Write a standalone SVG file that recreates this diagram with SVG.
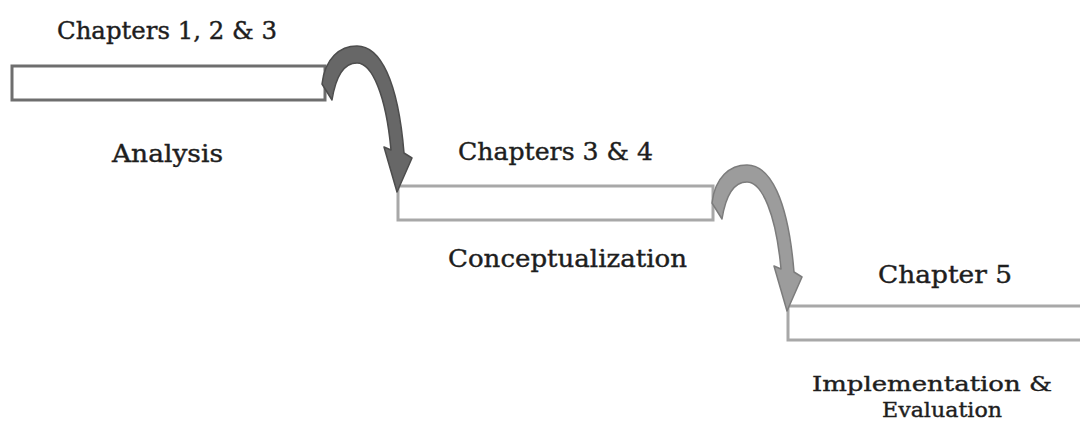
<svg xmlns="http://www.w3.org/2000/svg" width="1080" height="425" viewBox="0 0 1080 425">
<style>
.lbl{font-family:"DejaVu Serif","Liberation Serif",serif;font-size:24px;fill:#1e1e1e;stroke:#1e1e1e;stroke-width:0.4;text-anchor:middle}
.sm{font-size:21px}
.step1{fill:#fff;stroke:#6e6e6e;stroke-width:3}
.step2{fill:#fff;stroke:#a8a8a8;stroke-width:3}
.arr1{fill:#676767;stroke:#4d4d4d;stroke-width:1.5;stroke-linejoin:round}
.arr2{fill:#9c9c9c;stroke:#7c7c7c;stroke-width:1.5;stroke-linejoin:round}
</style>
<defs>
<path id="curve" d="M 322,84 C 325,58 340,46 357,46 C 380,46 398,80 404,153 L 412,158 L 397,192 L 384,147 L 391,150 C 386,95 372,63 357,63 C 345,63 336,75 332,100 Z"/>
</defs>
<rect width="1080" height="425" fill="#fff"/>
<g id="step-analysis">
<rect class="step1" x="12" y="66" width="313" height="34"/>
<text class="lbl" x="167" y="39" textLength="220" lengthAdjust="spacingAndGlyphs">Chapters 1, 2 &amp; 3</text>
<text class="lbl" x="167.5" y="162" textLength="111" lengthAdjust="spacingAndGlyphs">Analysis</text>
</g>
<g id="step-conceptualization">
<rect class="step2" x="398" y="186" width="315" height="34"/>
<text class="lbl" x="555.5" y="160" textLength="195" lengthAdjust="spacingAndGlyphs">Chapters 3 &amp; 4</text>
<text class="lbl" x="567.5" y="267" textLength="239" lengthAdjust="spacingAndGlyphs">Conceptualization</text>
</g>
<g id="step-implementation">
<rect class="step2" x="788" y="306" width="300" height="34"/>
<text class="lbl" x="945" y="283" textLength="134" lengthAdjust="spacingAndGlyphs">Chapter 5</text>
<text class="lbl sm" x="932" y="391" textLength="240" lengthAdjust="spacingAndGlyphs">Implementation &amp;</text>
<text class="lbl sm" x="942" y="417" textLength="120" lengthAdjust="spacingAndGlyphs">Evaluation</text>
</g>
<g id="connectors">
<use href="#curve" class="arr1"/>
<use href="#curve" class="arr2" transform="translate(390,119)"/>
</g>
</svg>
